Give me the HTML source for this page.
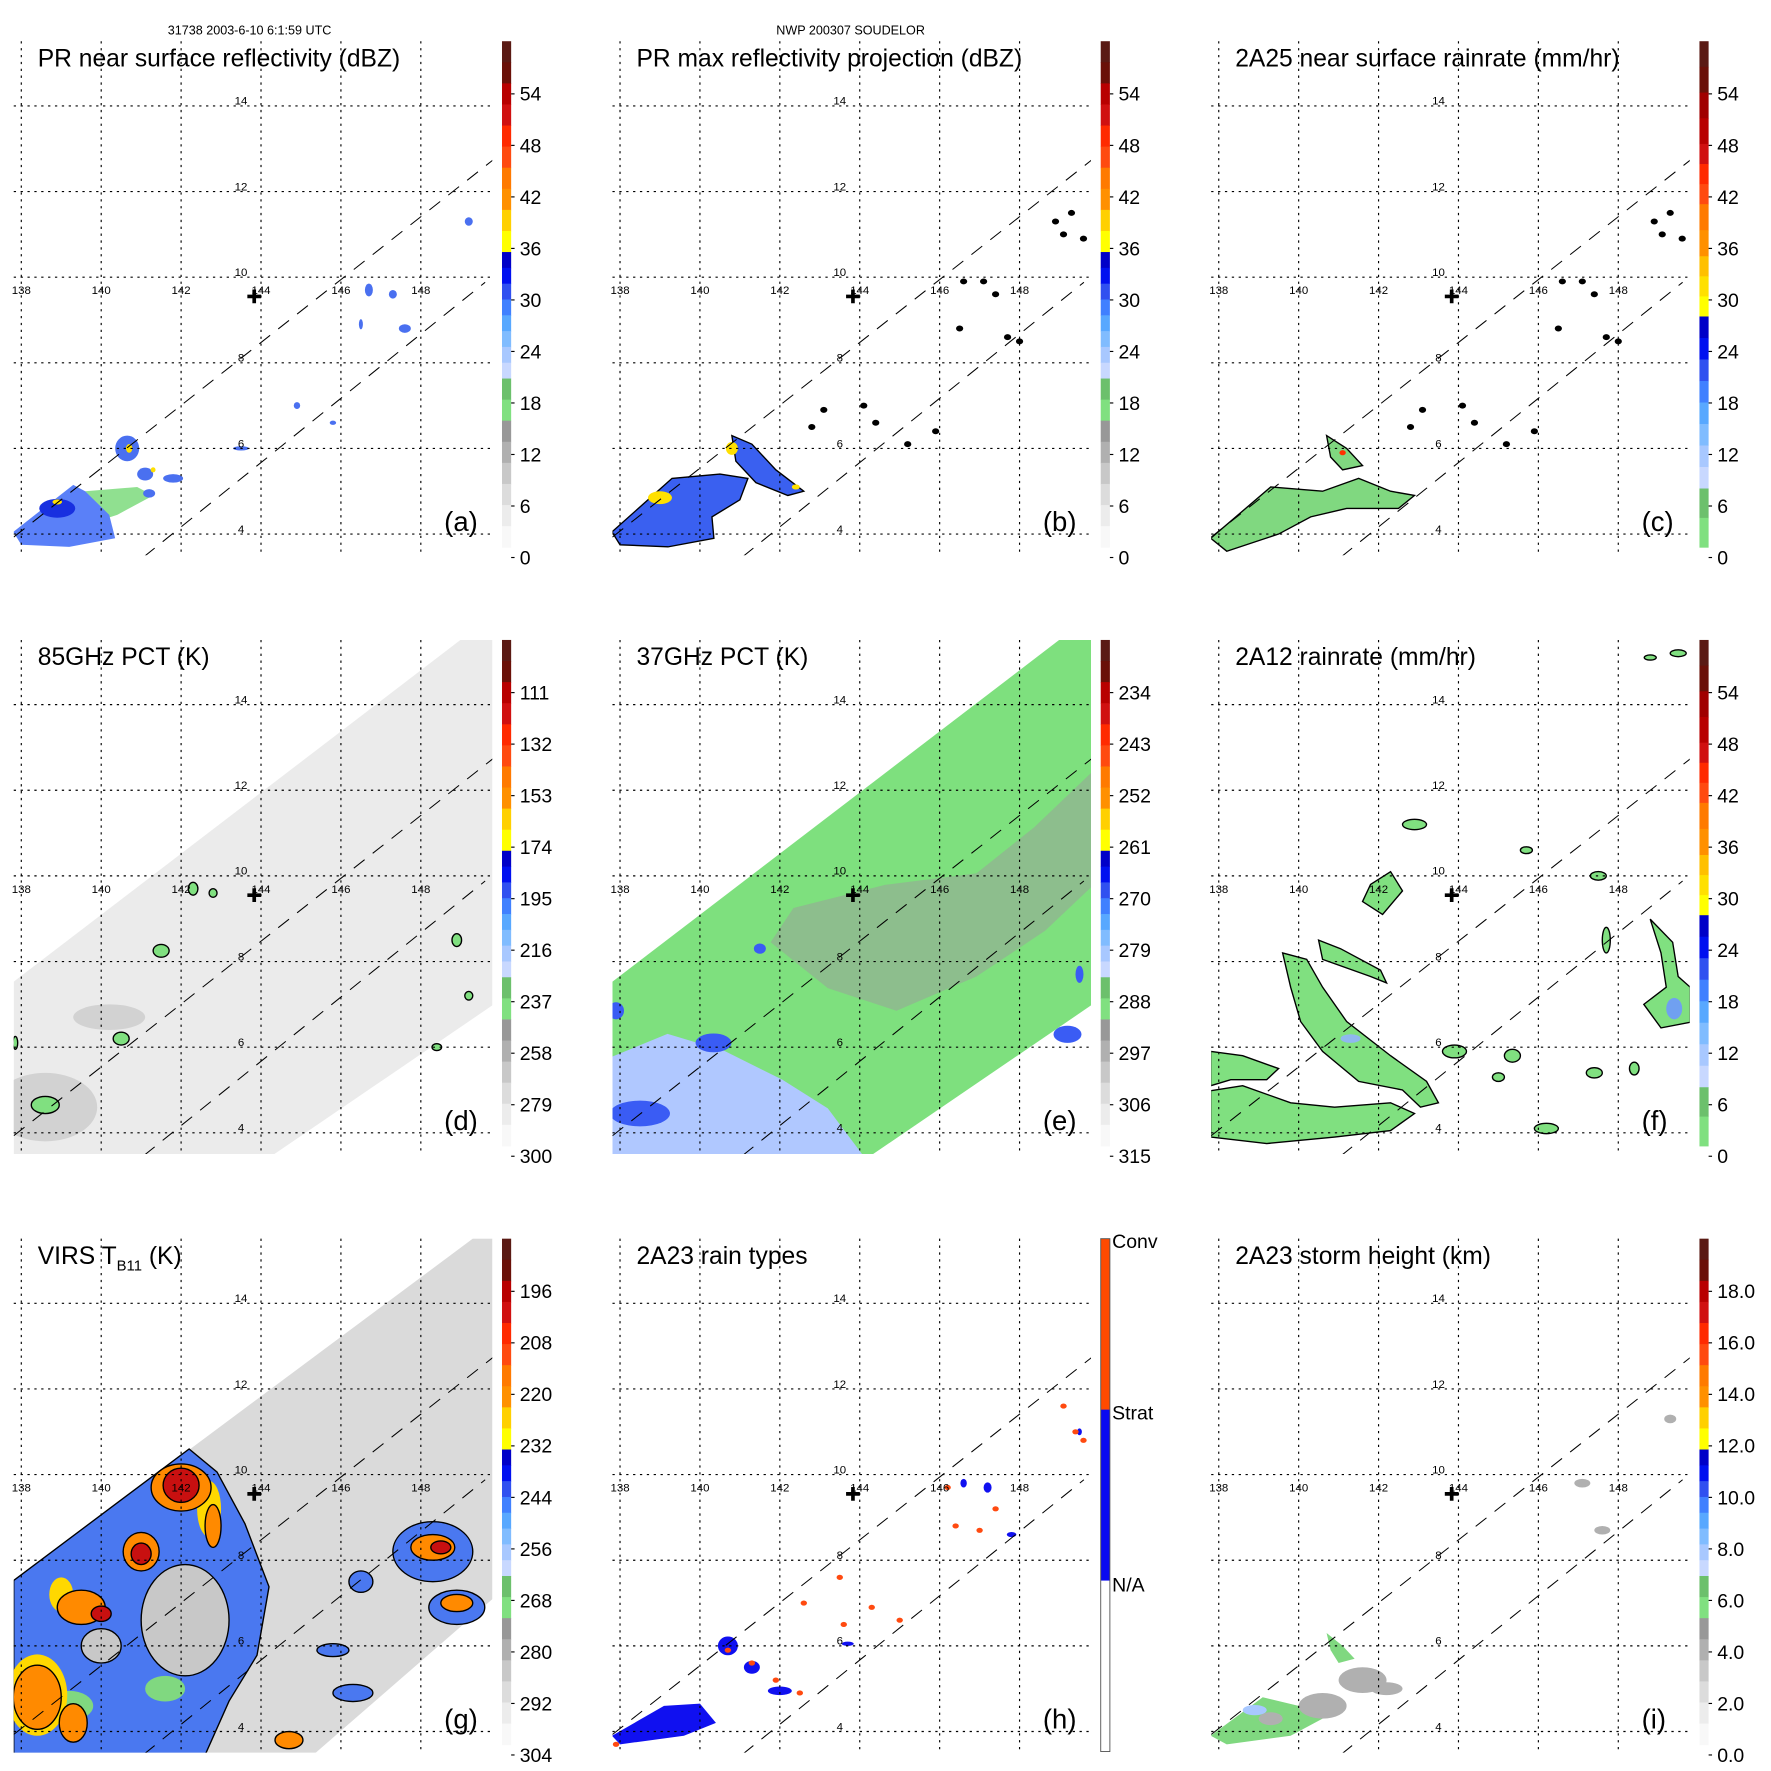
<!DOCTYPE html>
<html><head><meta charset="utf-8"><style>
html,body{margin:0;padding:0;background:#fff;}
svg{display:block;font-family:"Liberation Sans",sans-serif;}
</style></head><body>
<svg id="fig" xmlns="http://www.w3.org/2000/svg" width="1771" height="1771" viewBox="0 0 1547 1547">
<text x="218" y="30" font-size="11" text-anchor="middle">31738 2003-6-10 6:1:59 UTC</text>
<text x="743" y="30" font-size="11" text-anchor="middle">NWP 200307 SOUDELOR</text>
</svg>
<script>
// ---- axis data ----
const lonTicks=[138,140,142,144,146,148];
const latTicks=[4,6,8,10,12,14];
const crossLon=143.83, crossLat=9.55;
const prUpper=[[137.81,3.93],[149.81,12.74]];
const prLower=[[141.07,3.47],[149.61,9.88]];
const tmiSwath=[[137.81,7.53],[148.99,15.51],[149.8,15.51],[149.8,6.98],[144.25,3.45],[137.81,3.45]];
const virsSwath=[[137.81,7.53],[149.3,15.51],[149.8,15.51],[149.8,7.1],[145.3,3.45],[137.81,3.45]];
// colorbar tick labels
const ticksDBZ=["54","48","42","36","30","24","18","12","6","0"];
const ticks85=["111","132","153","174","195","216","237","258","279","300"];
const ticks37=["234","243","252","261","270","279","288","297","306","315"];
const ticksVIRS=["196","208","220","232","244","256","268","280","292","304"];
const ticksHgt=["18.0","16.0","14.0","12.0","10.0","8.0","6.0","4.0","2.0","0.0"];
const ticksType=["Conv","Strat","N/A"];
// colorbar classes (fraction of bar, colours top->bottom)
const barStd=[[1/12,['#5a1a14','#6a1008']],[2/12,['#b80000','#d01010','#ff2a00','#ff4a10']],[1/12,['#ff7a00','#ff9000']],[1/12,['#ffd000','#ffff00']],[3/12,['#0000c8','#0010f0','#3050f0','#4080ff','#58a8ff','#80bcff','#a8c8ff','#c8d8ff']],[1/12,['#6cc06c','#80e080']],[3/12,['#989898','#b0b0b0','#c8c8c8','#dcdcdc','#ececec','#f8f8f8']]];
const barRain=[[0.203,['#5a1a14','#6a1008','#a00000','#b80000']],[0.119,['#d01010','#ff2a00','#ff4a10']],[0.103,['#ff7a00','#ff9000']],[0.119,['#ffc000','#ffe000','#ffff00']],[0.34,['#0000c8','#0010f0','#3050f0','#4080ff','#58a8ff','#80bcff','#a8c8ff','#c8d8ff']],[0.116,['#6cc06c','#80e080']]];
const barType=[[1/3,['#ff4a00']],[1/3,['#0a0af0']],[1/3,['#ffffff']]];
// ---- field data (lon, lat) ----
const aPolys=[[[137.8,4.05],[139.3,5.15],[139.6,5.0],[140.2,4.45],[140.35,3.9],[139.2,3.7],[138.0,3.75]]];
const aGreen=[[[139.6,5.0],[140.9,5.1],[141.3,4.9],[140.4,4.45],[139.9,4.3]]];
const aBlobs=[[140.65,6.0,.3,.3],[141.1,5.4,.2,.15],[141.8,5.3,.25,.1],[141.2,4.95,.15,.1],[146.7,9.7,.1,.15],[147.3,9.6,.1,.1],[147.6,8.8,.15,.1],[146.5,8.9,.05,.12],[149.2,11.3,.1,.1],[143.5,6.0,.2,.05],[144.9,7.0,.08,.08],[145.8,6.6,.08,.05]];
const aYellow=[[138.9,4.75,.12,.06],[140.7,6.0,.08,.1],[141.3,5.5,.06,.06]];
const bPolys=[[[137.8,4.05],[139.3,5.3],[140.5,5.4],[141.2,5.3],[141.0,4.8],[140.3,4.4],[140.35,3.9],[139.2,3.7],[138.0,3.75]],[[140.8,6.3],[141.3,6.1],[141.9,5.5],[142.6,5.0],[142.2,4.9],[141.4,5.2],[140.9,5.7]]];
const bYellow=[[139.0,4.85,.3,.15],[140.8,6.0,.15,.15],[142.4,5.1,.1,.06]];
const dots=[[146.6,9.9],[147.4,9.6],[146.5,8.8],[147.7,8.6],[148.0,8.5],[149.1,11.0],[149.3,11.5],[149.6,10.9],[144.1,7.0],[145.2,6.1],[145.9,6.4],[143.1,6.9],[142.8,6.5],[144.4,6.6],[147.1,9.9],[148.9,11.3]];
const cPolys=[[[137.8,3.9],[139.3,5.1],[140.6,5.0],[141.5,5.3],[142.3,5.0],[142.9,4.9],[142.5,4.6],[141.2,4.6],[140.3,4.4],[139.5,4.0],[138.2,3.6]],[[140.7,6.3],[141.2,6.0],[141.6,5.6],[141.1,5.5],[140.8,5.8]]];
const dBlobs=[[138.6,4.65,.35,.2],[140.5,6.2,.2,.15],[141.5,8.25,.2,.15],[142.3,9.7,.12,.15],[142.8,9.6,.1,.1],[148.9,8.5,.12,.15],[149.2,7.2,.1,.1],[148.4,6.0,.12,.08],[137.85,6.1,.06,.15]];
const dDark=[[138.6,4.6,1.3,.8],[140.2,6.7,.9,.3]];
const eGray=[[142.34,9.25],[144.63,9.79],[146.92,10.06],[148.36,11.13],[149.85,12.46],[149.85,9.79],[148.64,8.72],[146.92,7.65],[144.92,6.85],[143.2,7.38],[141.77,8.45]];
const eLight=[[137.81,5.78],[139.19,6.31],[140.62,5.91],[142.06,5.24],[143.2,4.57],[144.06,3.5],[137.81,3.5]];
const eDark=[[138.5,4.45,.75,.3],[140.34,6.1,.45,.22],[137.9,6.85,.2,.2],[149.2,6.3,.35,.2],[149.5,7.7,.1,.2],[141.5,8.3,.15,.12]];
const fPolys=[[[139.6,8.2],[140.2,8.05],[140.6,7.4],[141.2,6.6],[142.3,5.8],[143.2,5.2],[143.5,4.7],[143.05,4.6],[142.6,5.0],[141.5,5.2],[140.6,5.9],[140.05,6.6],[139.8,7.4]],[[137.8,4.98],[138.6,5.1],[139.8,4.7],[140.9,4.6],[142.3,4.7],[142.9,4.45],[142.3,4.05],[140.9,3.9],[139.2,3.75],[137.8,3.9]],[[137.8,5.9],[138.6,5.8],[139.5,5.5],[139.2,5.24],[138.3,5.24],[137.8,5.1]],[[140.5,8.5],[141.05,8.3],[142.05,7.8],[142.2,7.5],[141.8,7.65],[140.6,8.05]],[[141.8,9.8],[142.3,10.1],[142.6,9.65],[142.1,9.1],[141.6,9.4]],[[148.8,8.99],[149.36,8.45],[149.5,7.65],[149.8,7.4],[149.8,6.58],[149.07,6.45],[148.64,7.0],[149.2,7.4],[149.07,8.2]]];
const fBlobs=[[143.9,5.9,.3,.15],[145.35,5.8,.2,.15],[146.2,4.1,.3,.12],[147.4,5.4,.2,.12],[148.4,5.5,.12,.15],[142.9,11.2,.3,.12],[145.7,10.6,.15,.08],[147.5,10.0,.2,.1],[149.5,15.2,.2,.08],[148.8,15.1,.15,.06],[147.7,8.5,.1,.3],[145.0,5.3,.15,.1]];
const gColor=[[137.81,7.53],[142.2,10.6],[142.9,10.06],[143.6,8.85],[144.2,7.38],[143.9,5.78],[143.2,4.71],[142.6,3.45],[137.81,3.45]];
const gGray=[[142.1,6.6,1.1,1.3],[140.0,6.0,.5,.4]];
const gGreen=[[139.2,4.6,.6,.35],[141.6,5.0,.5,.3]];
const gYellow=[[138.4,4.85,.75,.95],[142.7,9.2,.3,.65],[139.0,7.2,.3,.4]];
const gOrange=[[142.0,9.7,.75,.55],[141.0,8.2,.45,.45],[139.5,6.9,.6,.4],[138.4,4.8,.6,.75],[139.3,4.2,.35,.45],[148.3,8.3,.55,.3],[148.9,7.0,.4,.2],[144.7,3.8,.35,.2],[142.8,8.8,.2,.5]];
const gRed=[[142.0,9.75,.45,.4],[141.0,8.15,.25,.25],[140.0,6.75,.25,.18],[148.5,8.3,.25,.15]];
const gBlue=[[148.3,8.2,1.0,.7],[148.9,6.9,.7,.4],[146.5,7.5,.3,.25],[145.8,5.9,.4,.15],[146.3,4.9,.5,.2]];
const hBlue=[[[137.8,3.9],[139.1,4.6],[140.0,4.65],[140.4,4.2],[139.6,3.9],[138.0,3.7]]];
const hBlueBlobs=[[140.7,6.0,.25,.22],[141.3,5.5,.2,.15],[142.0,4.95,.3,.1],[143.7,6.05,.15,.05],[146.6,9.8,.08,.1],[147.2,9.7,.1,.12],[149.5,11.0,.06,.08],[147.8,8.6,.12,.06]];
const hRed=[[140.7,5.9],[141.3,5.6],[141.9,5.2],[142.5,4.9],[145.0,6.6],[146.2,9.7],[147.4,9.2],[147.0,8.7],[149.4,11.0],[149.6,10.8],[143.6,6.5],[144.3,6.9],[142.6,7.0],[143.5,7.6],[146.4,8.8],[149.1,11.6],[137.9,3.7]];
const iGreen=[[[137.8,3.9],[139.1,4.8],[140.0,4.6],[140.6,4.3],[139.8,3.9],[138.2,3.7]],[[140.7,6.3],[141.1,6.0],[141.4,5.7],[141.0,5.6],[140.8,5.9]]];
const iGray=[[140.6,4.6,.6,.3],[141.6,5.2,.6,.3],[142.2,5.0,.4,.15],[139.3,4.3,.3,.15],[147.1,9.8,.2,.1],[147.6,8.7,.2,.1],[149.3,11.3,.15,.1]];

const NS='http://www.w3.org/2000/svg';
const svg=document.getElementById('fig');
const OX=[0,523,1046], OY=[0,523,1046];
function X(c,lon){return OX[c]+18.6+(lon-138)*34.9;}
function Y(r,lat){return OY[r]+466.5-(lat-4)*37.4;}
function mk(tag,attrs,parent){const e=document.createElementNS(NS,tag);for(const k in attrs)e.setAttribute(k,attrs[k]);parent.appendChild(e);return e;}
function poly(g,c,r,pts,fill,stroke,name){
  const e=mk('polygon',{points:pts.map(p=>X(c,p[0]).toFixed(1)+','+Y(r,p[1]).toFixed(1)).join(' '),fill:fill,stroke:stroke||'none','stroke-width':1.2},g);
  
  
  return e;}
function ell(g,c,r,b,fill,stroke,name){
  const e=mk('ellipse',{cx:X(c,b[0]),cy:Y(r,b[1]),rx:b[2]*34.9,ry:b[3]*37.4,fill:fill,stroke:stroke||'none','stroke-width':1.2},g);
  
  
  return e;}

const panels=[
 {c:0,r:0,id:'a',title:'PR near surface reflectivity (dBZ)',bar:barStd,ticks:ticksDBZ},
 {c:1,r:0,id:'b',title:'PR max reflectivity projection (dBZ)',bar:barStd,ticks:ticksDBZ},
 {c:2,r:0,id:'c',title:'2A25 near surface rainrate (mm/hr)',bar:barRain,ticks:ticksDBZ},
 {c:0,r:1,id:'d',title:'85GHz PCT (K)',bar:barStd,ticks:ticks85},
 {c:1,r:1,id:'e',title:'37GHz PCT (K)',bar:barStd,ticks:ticks37},
 {c:2,r:1,id:'f',title:'2A12 rainrate (mm/hr)',bar:barRain,ticks:ticksDBZ},
 {c:0,r:2,id:'g',title:'VIRS',bar:barStd,ticks:ticksVIRS},
 {c:1,r:2,id:'h',title:'2A23 rain types',bar:barType,ticks:ticksType},
 {c:2,r:2,id:'i',title:'2A23 storm height (km)',bar:barStd,ticks:ticksHgt}];

panels.forEach(P=>{
  const c=P.c,r=P.r,ox=OX[c],oy=OY[r];
  const g=mk('g',{},svg);
  
  
  const cp=mk('clipPath',{id:'clip'+P.id},svg);
  mk('rect',{x:ox+12,y:oy+36,width:418,height:449},cp);
  const m=mk('g',{'clip-path':'url(#clip'+P.id+')'},g);
  
  
  const id=P.id;
  if(id==='a'){
    aGreen.forEach(p=>poly(m,c,r,p,'#90e090',null,'light-echo-area'));
    aPolys.forEach(p=>poly(m,c,r,p,'#5a80f8',null,'echo-area'));
    ell(m,c,r,[138.9,4.6,.45,.22],'#1830e0',null,'core-echo');
    aBlobs.forEach(b=>ell(m,c,r,b,'#4a70f0',null,'echo-cell'));
    aYellow.forEach(b=>ell(m,c,r,b,'#ffe000',null,'strong-echo'));
  }
  if(id==='b'){
    bPolys.forEach(p=>poly(m,c,r,p,'#3a60f0','#000','echo-area'));
    bYellow.forEach(b=>ell(m,c,r,b,'#ffe000',null,'strong-echo'));
    dots.forEach(d=>ell(m,c,r,[d[0],d[1],.09,.07],'#000',null,'echo-contour-dot'));
  }
  if(id==='c'){
    cPolys.forEach(p=>poly(m,c,r,p,'#80d880','#000','rain-area'));
    ell(m,c,r,[141.1,5.9,.08,.06],'#ff3000',null,'heavy-rain');
    dots.forEach(d=>ell(m,c,r,[d[0],d[1],.09,.07],'#000',null,'rain-contour-dot'));
  }
  if(id==='d'){
    poly(m,c,r,tmiSwath,'#ebebeb',null,'tmi-swath');
    dDark.forEach(b=>ell(m,c,r,b,'#d2d2d2',null,'cold-area'));
    dBlobs.forEach(b=>ell(m,c,r,b,'#80e080','#000','scattering-cell'));
  }
  if(id==='e'){
    poly(m,c,r,tmiSwath,'#7ee07e',null,'tmi-swath');
    poly(m,c,r,eGray,'#9c9c9c',null,'warm-area').setAttribute('opacity','0.5');
    poly(m,c,r,eLight,'#b0c8ff',null,'cool-area');
    eDark.forEach(b=>ell(m,c,r,b,'#3a5cf4',null,'scattering-cell'));
  }
  if(id==='f'){
    fPolys.forEach(p=>poly(m,c,r,p,'#80e080','#000','rain-area'));
    fBlobs.forEach(b=>ell(m,c,r,b,'#80e080','#000','rain-cell'));
    ell(m,c,r,[141.3,6.2,.25,.1],'#90b8f0',null,'moderate-rain');
    ell(m,c,r,[149.4,6.9,.2,.25],'#70a0f0',null,'moderate-rain');
  }
  if(id==='g'){
    poly(m,c,r,virsSwath,'#dadada',null,'virs-swath');
    poly(m,c,r,gColor,'#4a78f0','#000','cold-cloud-area');
    gGray.forEach(b=>ell(m,c,r,b,'#c8c8c8','#000','warm-gap'));
    gGreen.forEach(b=>ell(m,c,r,b,'#80d880',null,'mid-cloud'));
    gBlue.forEach(b=>ell(m,c,r,b,'#4a78f0','#000','cold-cloud'));
    gYellow.forEach(b=>ell(m,c,r,b,'#ffd800',null,'colder-cloud'));
    gOrange.forEach(b=>ell(m,c,r,b,'#ff8a00','#000','very-cold-cloud'));
    gRed.forEach(b=>ell(m,c,r,b,'#c81010','#000','coldest-cloud'));
  }
  if(id==='h'){
    hBlue.forEach(p=>poly(m,c,r,p,'#1010f0',null,'stratiform-area'));
    hBlueBlobs.forEach(b=>ell(m,c,r,b,'#1010f0',null,'stratiform-cell'));
    hRed.forEach(d=>ell(m,c,r,[d[0],d[1],.08,.06],'#ff4a10',null,'convective-pixel'));
  }
  if(id==='i'){
    iGreen.forEach(p=>poly(m,c,r,p,'#80d880',null,'storm-height-area'));
    iGray.forEach(b=>ell(m,c,r,b,'#b0b0b0',null,'low-storm-height'));
    ell(m,c,r,[138.9,4.5,.3,.12],'#a8c8ff',null,'tall-storm-area');
  }
  // grid
  lonTicks.forEach(l=>{const e=mk('line',{x1:X(c,l),x2:X(c,l),y1:oy+36,y2:oy+485,stroke:'#000','stroke-width':1,'stroke-dasharray':'2,4'},g);
    
    });
  latTicks.forEach(l=>{const e=mk('line',{x1:ox+12,x2:ox+430,y1:Y(r,l),y2:Y(r,l),stroke:'#000','stroke-width':1,'stroke-dasharray':'2,4'},g);
    
    });
  // PR swath edges
  [prUpper,prLower].forEach(s=>{const e=mk('line',{x1:X(c,s[0][0]),y1:Y(r,s[0][1]),x2:X(c,s[1][0]),y2:Y(r,s[1][1]),stroke:'#000','stroke-width':0.9,'stroke-dasharray':'12,9'},m);
    
    });
  // cross
  const cx=X(c,crossLon),cy=Y(r,crossLat);
  const cr=mk('path',{d:`M${cx-6},${cy}H${cx+6}M${cx},${cy-6}V${cy+6}`,stroke:'#000','stroke-width':3.2},g);
  
  
  lonTicks.forEach(l=>{const t=mk('text',{x:X(c,l),y:Y(r,crossLat)-2,'font-size':10,'text-anchor':'middle'},g);t.textContent=l;
    
    });
  latTicks.forEach(l=>{const t=mk('text',{x:X(c,143.5),y:Y(r,l)-1,'font-size':10,'text-anchor':'middle'},g);t.textContent=l;
    
    });
  // title
  const tt=mk('text',{x:ox+33,y:oy+58,'font-size':21.5},g);
  
  
  if(id==='g'){tt.innerHTML='VIRS T<tspan font-size="13" dy="6">B11</tspan><tspan dy="-6"> (K)</tspan>';}
  else tt.textContent=P.title;
  const lt=mk('text',{x:ox+388,y:oy+464,'font-size':24},g);lt.textContent='('+id+')';
  
  
  // colorbar
  const bx=ox+438.5,by=oy+36,bh=(id==='h')?448:442,bw=8;
  let yy=by;
  const cb=mk('g',{},g);
  
  
  P.bar.forEach(seg=>{const h=seg[0]*bh,n=seg[1].length;seg[1].forEach((col,k)=>{const e=mk('rect',{x:bx,y:yy+k*h/n,width:bw,height:h/n+0.4,fill:col},cb);
      
      });yy+=h;});
  if(id==='h'){const e=mk('rect',{x:bx,y:by,width:bw,height:bh,fill:'none',stroke:'#555','stroke-width':0.8},cb);
    
    
    P.ticks.forEach((s,k)=>{const t=mk('text',{x:bx+10,y:by+8+k*150,'font-size':17},cb);t.textContent=s;
      
      });}
  else P.ticks.forEach((s,k)=>{const ty=oy+82+k*45;
    const tk=mk('line',{x1:bx+bw,x2:bx+bw+3,y1:ty,y2:ty,stroke:'#000'},cb);
    
    
    const t=mk('text',{x:ox+454,y:ty+6,'font-size':17},cb);t.textContent=s;
    
    });
});
</script>
</body></html>
